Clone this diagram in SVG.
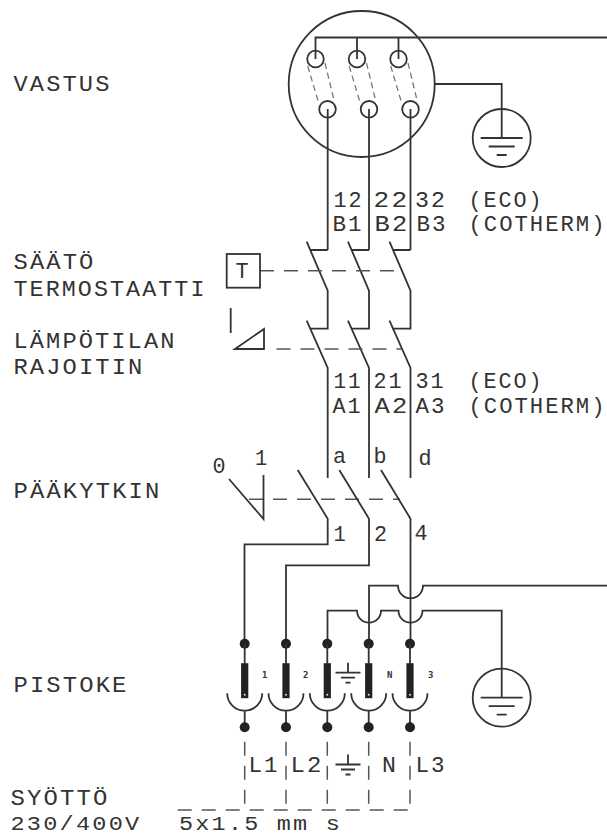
<svg xmlns="http://www.w3.org/2000/svg" width="607" height="836" viewBox="0 0 607 836">
<style>
.w{fill:none;stroke:#333;stroke-width:1.8}
.d{fill:none;stroke:#555;stroke-width:1.5;stroke-dasharray:14 10}
.c{fill:none;stroke:#777;stroke-width:1.3;stroke-dasharray:6 4}
.t{font-family:"Liberation Mono","DejaVu Sans Mono",monospace;font-size:22.5px;letter-spacing:2px;fill:#333}
.b{font-size:21px}
.s{font-family:"DejaVu Sans Mono","Liberation Mono",monospace;font-size:9px;font-weight:bold;fill:#333}
.k{fill:#222}
</style>
<defs>
<g id="gnd"><path class="w" d="M-21 0H21M-13 8.5H13M-5 17H5"/><circle class="w" r="29" cy="0"/></g>
<g id="gs"><path class="w" d="M0 -10V0M-12.5 0H12.5M-7 5H7M-2.5 10H2.5"/></g>
<g id="plug"><circle class="k" cy="0" r="5"/><path class="w" d="M0 0V20"/><rect class="k" x="-3.6" y="19.5" width="7.2" height="35"/><circle cy="51" r="1" fill="#ddd"/><path class="w" d="M-17.5 49.5A17.5 17.5 0 0 0 17.5 49.5M0 67V83"/><circle class="k" cy="83.5" r="5"/></g>
</defs>
<rect width="607" height="836" fill="#fff"/>
<g id="connectors">
<path class="w" d="M607 37.5H315.5V59M357 37.5V59M398.5 37.5V59"/>
<path class="w" d="M327.7 109V250M369 109V250M410.5 109V250"/>
<path class="w" d="M435 84H501.7V138"/>
<path class="c" d="M307.7 66L318.3 101.7M325 63L334 100M349.2 66L359.8 101.7M366.5 63L375.5 100M390.7 66L401.3 101.7M408 63L417 100"/>
<path class="w" d="M306.7 241.7L327.7 290.7V328.7H310M327.7 250H310M348 241.7L369 290.7V328.7H351.3M369 250H351.3M389.5 241.7L410.5 290.7V328.7H392.8M410.5 250H392.8"/>
<path class="w" d="M306.7 320.7L327.7 368V478M348 320.7L369 368V478M389.5 320.7L410.5 368V478"/>
<path class="d" d="M260 270.7H402M276.5 349H402M249 499.3H400"/>
<path class="w" d="M297.7 470L327.7 518.7V544.3H244.5V643M339.3 470L369 518.7V565.3H286V643M381 470L410.5 518.7V643"/>
<path class="w" d="M229 479L263.5 519V475"/>
<path class="w" d="M369 643V585.7H398A12.5 12.5 0 0 0 423 585.7H607"/>
<path class="w" d="M327.5 643V610.7H357A12 12 0 0 0 381 610.7H398.5A12 12 0 0 0 422.5 610.7H501.7V698"/>
<path class="d" d="M244.7 741.7V810M286 741.7V810M327.3 741.7V810M368.7 741.7V810M410 741.7V810M177.7 810H410"/>
</g>
<g id="vastus-circle"><circle class="w" cx="361.7" cy="84" r="73"/>
<circle class="w" cx="315.5" cy="59" r="8.3"/><circle class="w" cx="357" cy="59" r="8.3"/><circle class="w" cx="398.5" cy="59" r="8.3"/>
<circle class="w" cx="327.5" cy="109.3" r="8.3"/><circle class="w" cx="369" cy="109.3" r="8.3"/><circle class="w" cx="410.5" cy="109.3" r="8.3"/></g>
<g id="ground-top"><use href="#gnd" x="501.7" y="138"/></g>
<g id="ground-bottom"><use href="#gnd" x="501.7" y="697.7"/></g>
<g id="thermostat"><rect class="w" x="226.7" y="254" width="33.3" height="33.7"/><text class="t" x="235.5" y="277.7" textLength="15" lengthAdjust="spacingAndGlyphs">T</text></g>
<g id="limiter"><path class="w" d="M230.7 308V333M235 349L264 329V349Z"/></g>
<g id="plugs">
<use href="#plug" x="244.7" y="643.7"/><use href="#plug" x="286" y="643.7"/><use href="#plug" x="327.3" y="643.7"/><use href="#plug" x="368.7" y="643.7"/><use href="#plug" x="410" y="643.7"/>
<use href="#gs" x="348" y="672.7"/><use href="#gs" x="348" y="764.5"/>
<text class="s" x="262" y="677.6">1</text><text class="s" x="303" y="677.6">2</text><text class="s" x="387" y="677.6">N</text><text class="s" x="428" y="677.6">3</text>
</g>
<g id="labels">
<text class="t" lengthAdjust="spacingAndGlyphs" x="13.5" y="91" textLength="98">VASTUS</text>
<text class="t" lengthAdjust="spacingAndGlyphs" x="13.5" y="269" textLength="82">SÄÄTÖ</text>
<text class="t" lengthAdjust="spacingAndGlyphs" x="13.5" y="296" textLength="193">TERMOSTAATTI</text>
<text class="t" lengthAdjust="spacingAndGlyphs" x="13.5" y="347.7" textLength="163">LÄMPÖTILAN</text>
<text class="t" lengthAdjust="spacingAndGlyphs" x="13.5" y="374" textLength="131">RAJOITIN</text>
<text class="t" lengthAdjust="spacingAndGlyphs" x="13.5" y="498" textLength="148">PÄÄKYTKIN</text>
<text class="t" lengthAdjust="spacingAndGlyphs" x="13.5" y="692" textLength="115">PISTOKE</text>
<text class="t" lengthAdjust="spacingAndGlyphs" x="10.5" y="805" textLength="99">SYÖTTÖ</text>
<text class="t b" lengthAdjust="spacingAndGlyphs" x="10.5" y="829.5" textLength="131">230/400V</text>
<text class="t b" lengthAdjust="spacingAndGlyphs" x="179" y="829.5" textLength="163" xml:space="preserve">5x1.5 mm s</text>
<text class="t" lengthAdjust="spacingAndGlyphs" x="333.5" y="206.7" textLength="30">12</text><text class="t" lengthAdjust="spacingAndGlyphs" x="373.5" y="206.7" textLength="36">22</text><text class="t" lengthAdjust="spacingAndGlyphs" x="415" y="206.7" textLength="32">32</text><text class="t" lengthAdjust="spacingAndGlyphs" x="468.5" y="206.7" textLength="75">(ECO)</text>
<text class="t" lengthAdjust="spacingAndGlyphs" x="332.5" y="230.7" textLength="31">B1</text><text class="t" lengthAdjust="spacingAndGlyphs" x="374.5" y="230.7" textLength="35">B2</text><text class="t" lengthAdjust="spacingAndGlyphs" x="416.5" y="230.7" textLength="31">B3</text><text class="t" lengthAdjust="spacingAndGlyphs" x="468.5" y="230.7" textLength="138">(COTHERM)</text>
<text class="t" lengthAdjust="spacingAndGlyphs" x="333.5" y="388" textLength="29">11</text><text class="t" lengthAdjust="spacingAndGlyphs" x="373.5" y="388" textLength="30">21</text><text class="t" lengthAdjust="spacingAndGlyphs" x="415.5" y="388" textLength="30">31</text><text class="t" lengthAdjust="spacingAndGlyphs" x="468.5" y="388" textLength="75">(ECO)</text>
<text class="t" lengthAdjust="spacingAndGlyphs" x="332.5" y="413" textLength="30">A1</text><text class="t" lengthAdjust="spacingAndGlyphs" x="374.5" y="413" textLength="35">A2</text><text class="t" lengthAdjust="spacingAndGlyphs" x="415.5" y="413" textLength="31">A3</text><text class="t" lengthAdjust="spacingAndGlyphs" x="468.5" y="413" textLength="138">(COTHERM)</text>
<text class="t" lengthAdjust="spacingAndGlyphs" x="333" y="463" textLength="15">a</text><text class="t" lengthAdjust="spacingAndGlyphs" x="373.5" y="463" textLength="15">b</text><text class="t" lengthAdjust="spacingAndGlyphs" x="418.5" y="465" textLength="15">d</text>
<text class="t" lengthAdjust="spacingAndGlyphs" x="212.5" y="473" textLength="15">0</text><text class="t" lengthAdjust="spacingAndGlyphs" x="255" y="465" textLength="14">1</text>
<text class="t" lengthAdjust="spacingAndGlyphs" x="333.5" y="540.7" textLength="14">1</text><text class="t" lengthAdjust="spacingAndGlyphs" x="374" y="541" textLength="15">2</text><text class="t" lengthAdjust="spacingAndGlyphs" x="414.5" y="540" textLength="15">4</text>
<text class="t" lengthAdjust="spacingAndGlyphs" x="248.5" y="771.7" textLength="31">L1</text><text class="t" lengthAdjust="spacingAndGlyphs" x="290.5" y="771.7" textLength="33">L2</text><text class="t" lengthAdjust="spacingAndGlyphs" x="382" y="771.7" textLength="16">N</text><text class="t" lengthAdjust="spacingAndGlyphs" x="415.5" y="771.7" textLength="31">L3</text>
</g>
</svg>
